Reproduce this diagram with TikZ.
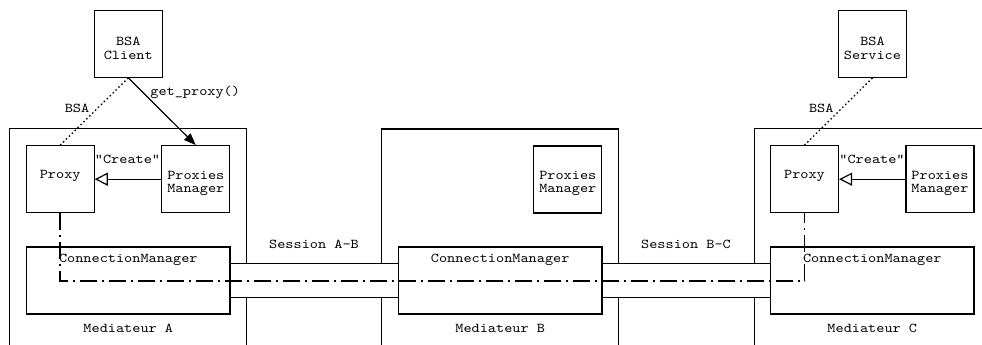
\documentclass[tikz,border=0pt]{standalone}
\usepackage{fontspec}
\newfontfamily\courfont{lmmono10-regular.otf}[FakeStretch=1.15]
\usetikzlibrary{arrows.meta}
\tikzset{
  txt/.style={font=\fontsize{13.5}{13.5}\selectfont\courfont, inner sep=0pt},
  smallbox/.style={draw, line width=1.2pt, minimum width=68pt, minimum height=67pt, inner sep=0pt, fill=white},
  boxtext/.style={txt, align=center},
  cmbox/.style={draw, line width=1.2pt, minimum width=203.5pt, minimum height=67pt, inner sep=0pt, fill=white},
  medbox/.style={draw, line width=1.2pt},
  tube/.style={line width=1.2pt},
  dotline/.style={line width=1.3pt, dash pattern=on 1.5pt off 2.6pt},
  dashdotline/.style={line width=1.5pt, dash pattern=on 17pt off 5pt on 2pt off 5pt},
  callarrow/.style={line width=1.2pt, -{Triangle[length=12pt,width=9pt]}},
  createarrow/.style={line width=1.2pt, -{Triangle[open,length=13pt,width=13pt,fill=white]}},
}
\begin{document}
\begin{tikzpicture}[x=1pt,y=-1pt]
\useasboundingbox (0,0) rectangle (982,345);
\clip (0,0) rectangle (982,345);
% mediator boxes (open at the bottom)
\draw[medbox] (9.3,360) -- (9.3,128.3) -- (246.7,128.3) -- (246.7,360);
\draw[medbox] (381.7,360) -- (381.7,129) -- (618.7,129) -- (618.7,360);
\draw[medbox] (754.3,360) -- (754.3,128.3) -- (995,128.3) -- (995,360);
% nodes
\node[smallbox, label={[boxtext, yshift=-4.5pt]center:BSA\\Client}] (client) at (128.3,43.8) {};
\node[smallbox, label={[boxtext, yshift=-4.5pt]center:BSA\\Service}] (service) at (872.5,43.8) {};
\node[smallbox, label={[boxtext, yshift=3.5pt]center:Proxy}] (pA) at (60.2,179.2) {};
\node[smallbox, label={[boxtext, yshift=-4pt]center:Proxies\\Manager}] (pmA) at (195.8,179.2) {};
\node[smallbox, label={[boxtext, yshift=-4pt]center:Proxies\\Manager}] (pmB) at (567.8,179.5) {};
\node[smallbox, label={[boxtext, yshift=3.5pt]center:Proxy}] (pC) at (804.5,179.2) {};
\node[smallbox, label={[boxtext, yshift=-4pt]center:Proxies\\Manager}] (pmC) at (940,179.2) {};
\node[cmbox] (cmA) at (128.3,280.5) {};
\node[cmbox] (cmB) at (500.2,280.5) {};
\node[cmbox] (cmC) at (872.3,280.5) {};
\node[txt] (cmAt) at (128.3,260) {ConnectionManager};
\node[txt] (cmBt) at (500.2,260) {ConnectionManager};
\node[txt] (cmCt) at (872.3,260) {ConnectionManager};
\node[txt] (medA) at (128.3,328) {Mediateur A};
\node[txt] (medB) at (500.2,328) {Mediateur B};
\node[txt] (medC) at (872.3,328) {Mediateur C};
% tubes (sessions)
\fill[white] ([yshift=16.75pt]cmA.east) rectangle ([yshift=-16.75pt]cmB.west);
\draw[tube] ([yshift=16.75pt]cmA.east) -- ([yshift=16.75pt]cmB.west);
\draw[tube] ([yshift=-16.75pt]cmA.east) -- ([yshift=-16.75pt]cmB.west);
\fill[white] ([yshift=16.75pt]cmB.east) rectangle ([yshift=-16.75pt]cmC.west);
\draw[tube] ([yshift=16.75pt]cmB.east) -- ([yshift=16.75pt]cmC.west);
\draw[tube] ([yshift=-16.75pt]cmB.east) -- ([yshift=-16.75pt]cmC.west);
\node[txt] (sAB) at (314,244) {Session A-B};
\node[txt] (sBC) at (686,244) {Session B-C};
% connectors
\draw[dotline] (client.south) -- (pA.north);
\draw[dotline] (service.south) -- (pC.north);
\draw[callarrow] (client.south) -- (pmA.north);
\draw[createarrow] (pmA.west) -- (pA.east);
\draw[createarrow] (pmC.west) -- (pC.east);
\draw[dashdotline] (pA.south) -- (pA.south |- 0,281) -- (pC.south |- 0,281) -- (pC.south);
% labels
\node[txt] (lbsaA) at (77,108) {BSA};
\node[txt] (lbsaC) at (821.3,108) {BSA};
\node[txt] (lget) at (195.2,92) {get\_proxy()};
\node[txt] (lcrA) at (127.5,159.5) {"Create"};
\node[txt] (lcrC) at (872,159.5) {"Create"};
\end{tikzpicture}
\end{document}
